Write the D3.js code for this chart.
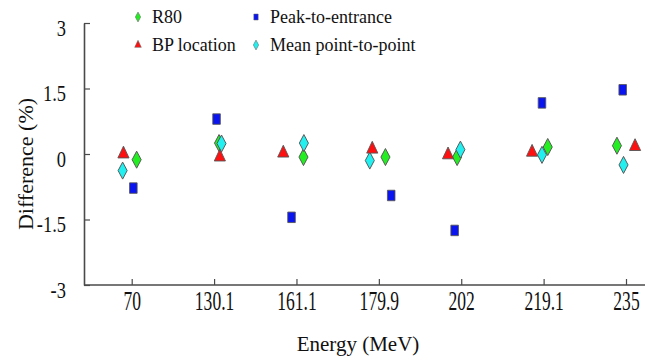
<!DOCTYPE html>
<html>
<head>
<meta charset="utf-8">
<script src="https://cdn.jsdelivr.net/npm/d3@7"></script>
<style>
  html, body { margin: 0; padding: 0; background: #fff; }
  svg { display: block; }
</style>
</head>
<body>
<svg id="chart" width="645" height="361"></svg>
<script>
// ---- data ----
const categories = ["70", "130.1", "161.1", "179.9", "202", "219.1", "235"];
const yTicks = [-3, -1.5, 0, 1.5, 3];
const yTickLabels = ["-3", "-1.5", "0", "1.5", "3"];

const seriesNames = ["R80", "BP location", "Peak-to-entrance", "Mean point-to-point"];
// values (%) per category
const r80Values   = [-0.13, 0.25, -0.07, -0.07, -0.07, 0.16, 0.19];
const bpValues    = [0.00, -0.07, 0.02, 0.11, -0.02, 0.04, 0.17];
const peakValues  = [-0.78, 0.80, -1.45, -0.95, -1.75, 1.17, 1.47];
const meanValues  = [-0.38, 0.24, 0.25, -0.15, 0.10, -0.02, -0.25];
// small horizontal jitter (in category units) of each series as in the original plot
const r80Jitter  = [0.06, 0.06, 0.085, 0.08, -0.05, 0.05, -0.11];
const bpJitter   = [-0.10, 0.07, -0.16, -0.08, -0.16, -0.14, 0.11];
const peakJitter = [0.02, 0.03, -0.06, 0.15, -0.08, -0.02, -0.04];
const meanJitter = [-0.11, 0.09, 0.09, -0.11, -0.01, -0.02, -0.03];

// ---- setup ----
const svg = d3.select("#chart");
const x = d3.scaleLinear().domain([0, categories.length - 1]).range([131.7, 626]);
const y = d3.scaleLinear().domain([-3, 3]).range([285, 23]);
const axisColor = "#4a4a4a";
const FONT = '"Liberation Serif", "Times New Roman", Times, serif';

// y axis
const gy = svg.append("g").attr("transform", "translate(84,0)")
  .call(d3.axisLeft(y).tickValues(yTicks)
    .tickFormat((d, i) => yTickLabels[i]).tickSizeInner(-6).tickSizeOuter(0));
gy.attr("font-family", null);
gy.select(".domain").attr("stroke", axisColor).attr("stroke-width", 1.6);
gy.selectAll(".tick line").attr("stroke", axisColor).attr("stroke-width", 1.2);
gy.selectAll(".tick text")
  .attr("x", 0).attr("dy", "0.35em")
  .attr("transform", "translate(-18,4) scale(0.77,1)")
  .attr("font-size", 24).attr("fill", "#111")
  .style("font-family", FONT);

// x axis
const gx = svg.append("g").attr("transform", "translate(0,285)")
  .call(d3.axisBottom(x).tickValues(d3.range(categories.length))
    .tickFormat(i => categories[i]).tickSizeInner(-6).tickSizeOuter(0));
gx.attr("font-family", null);
gx.select(".domain").remove();
gx.selectAll(".tick line").attr("stroke", axisColor).attr("stroke-width", 1.2);
gx.selectAll(".tick text")
  .attr("y", 0).attr("dy", 0)
  .attr("transform", "translate(0,25) scale(0.65,1)")
  .attr("font-size", 27).attr("fill", "#111")
  .style("font-family", FONT);
gx.append("line").attr("x1", 84).attr("x2", 645).attr("y1", 0).attr("y2", 0)
  .attr("stroke", axisColor).attr("stroke-width", 1.6);

// axis titles
svg.append("text").attr("x", 358).attr("y", 351).attr("text-anchor", "middle")
  .attr("font-size", 21).attr("fill", "#111").style("font-family", FONT).text("Energy (MeV)");
svg.append("text").attr("transform", "translate(25,164) rotate(-90)")
  .attr("text-anchor", "middle").attr("dy", "0.35em")
  .attr("font-size", 22).attr("fill", "#111").style("font-family", FONT).text("Difference (%)");

// ---- markers ----
const shapes = {
  diamond: { type: d3.symbolDiamond, size: 84, sx: 0.92 },
  triangle: { type: d3.symbolTriangle, size: 80, sx: 0.82 },
  square: { type: d3.symbolSquare, size: 110, sx: 0.72 }
};
const series = [
  { name: seriesNames[0], values: r80Values,  jitter: r80Jitter,  shape: "diamond",  color: "#22ee22" },
  { name: seriesNames[3], values: meanValues, jitter: meanJitter, shape: "diamond",  color: "#22f0f0" },
  { name: seriesNames[1], values: bpValues,   jitter: bpJitter,   shape: "triangle", color: "#ff1010" },
  { name: seriesNames[2], values: peakValues, jitter: peakJitter, shape: "square",   color: "#0a14ee" }
];

series.forEach(s => {
  const sh = shapes[s.shape];
  const path = d3.symbol().type(sh.type).size(sh.size)();
  svg.append("g").selectAll("path").data(s.values).join("path")
    .attr("d", path)
    .attr("transform", (v, i) => `translate(${x(i + s.jitter[i])},${y(v)}) scale(${sh.sx},1)`)
    .attr("fill", s.color)
    .attr("stroke", "#555")
    .attr("stroke-width", 1);
});

// ---- legend ----
const legendItems = [
  { name: seriesNames[0], shape: "diamond",  color: "#22ee22", col: 0, row: 0 },
  { name: seriesNames[2], shape: "square",   color: "#0a14ee", col: 1, row: 0 },
  { name: seriesNames[1], shape: "triangle", color: "#ff1010", col: 0, row: 1 },
  { name: seriesNames[3], shape: "diamond",  color: "#22f0f0", col: 1, row: 1 }
];
const legendSizes = { diamond: 28, triangle: 28, square: 36 };
const lg = svg.append("g");
legendItems.forEach(it => {
  const lx = 138 + it.col * 118, ly = 17 + it.row * 28;
  const sh = shapes[it.shape];
  lg.append("path")
    .attr("d", d3.symbol().type(sh.type).size(legendSizes[it.shape])())
    .attr("transform", `translate(${lx},${ly}) scale(${sh.sx},1)`)
    .attr("fill", it.color).attr("stroke", "#666").attr("stroke-width", 0.6);
  lg.append("text").attr("x", lx + 14).attr("y", ly).attr("dy", "0.35em")
    .attr("font-size", 18).attr("fill", "#111").style("font-family", FONT).text(it.name);
});
</script>
</body>
</html>
